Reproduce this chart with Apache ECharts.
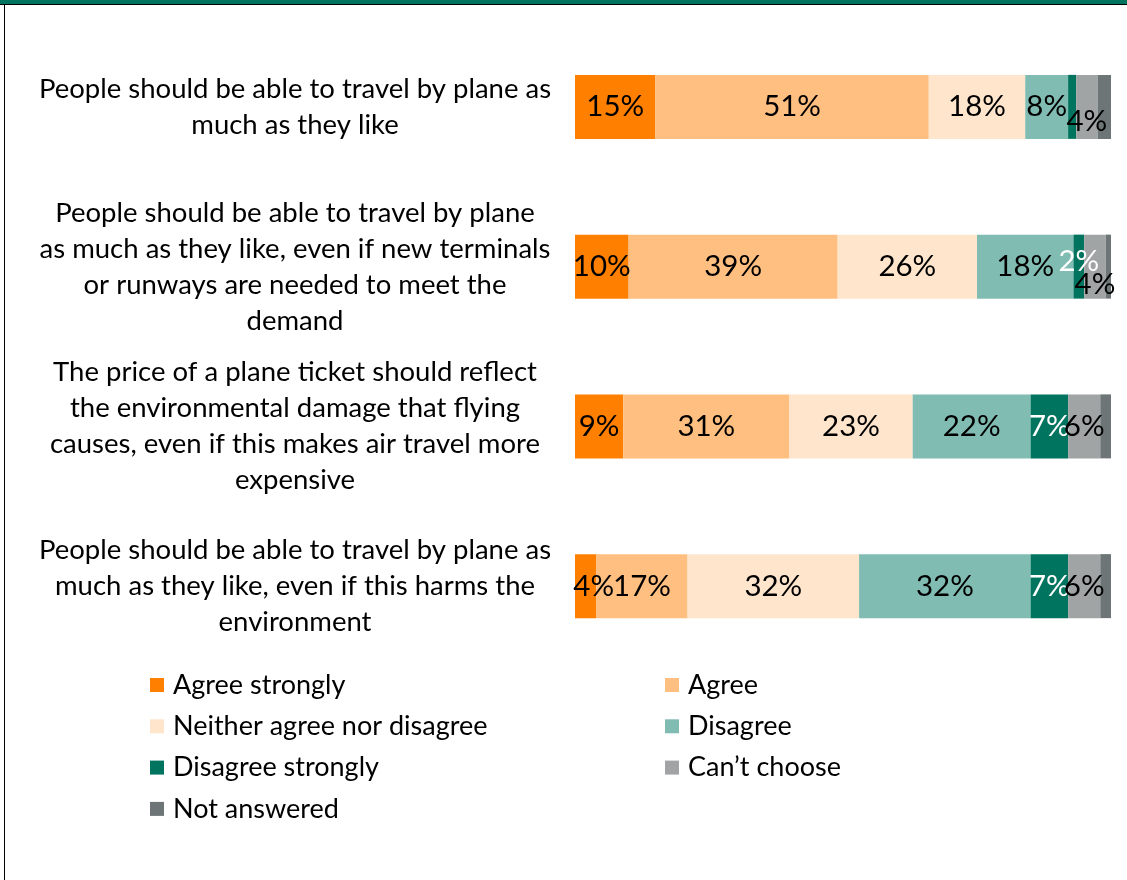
<!DOCTYPE html>
<html>
<head>
<meta charset="utf-8">
<title>Attitudes to air travel</title>
<script src="https://cdn.jsdelivr.net/npm/echarts@6/dist/echarts.min.js"></script>
<style>
  html, body { margin: 0; padding: 0; background: #ffffff; }
  #chart { width: 1127px; height: 880px; }
</style>
</head>
<body>
<div id="chart"></div>
<script>
// Statements (one bar each, top to bottom)
const categories = [
  'People should be able to travel by plane as\nmuch as they like',
  'People should be able to travel by plane\nas much as they like, even if new terminals\nor runways are needed to meet the\ndemand',
  'The price of a plane ticket should reflect\nthe environmental damage that flying\ncauses, even if this makes air travel more\nexpensive',
  'People should be able to travel by plane as\nmuch as they like, even if this harms the\nenvironment'
];

// Response shares, percent of respondents
const agreeStrongly    = [15, 10, 9, 4];
const agree            = [51, 39, 31, 17];
const neither          = [18, 26, 23, 32];
const disagree         = [8, 18, 22, 32];
const disagreeStrongly = [1.5, 2, 7, 7];
const cantChoose       = [4, 4, 6, 6];
const notAnswered      = [2.5, 1, 2, 2];

const seriesNames = [
  'Agree strongly', 'Agree', 'Neither agree nor disagree', 'Disagree',
  'Disagree strongly', 'Can\u2019t choose', 'Not answered'
];
const seriesValues = [agreeStrongly, agree, neither, disagree, disagreeStrongly, cantChoose, notAnswered];
const colors = ['#FF8000', '#FFBF80', '#FFE5CC', '#80BCB2', '#00745F', '#A0A4A4', '#6D7576'];
const labelColors = ['#000', '#000', '#000', '#000', '#fff', '#000', '#000'];

// Labels that are not drawn (series index -> bar indices)
const hiddenLabels = { 4: [0], 6: [0, 1, 2, 3] };
// Nudges for crowded labels near the ends of the bars
const labelNudges = {
  '5-0': [0, 15],
  '5-1': [0, 18],
  '4-1': [0, -5],
  '0-3': [8, 0]
};

const FONT = 'Lato, "Open Sans", sans-serif';

const series = seriesValues.map((vals, s) => ({
  name: seriesNames[s],
  type: 'bar',
  stack: 'total',
  barWidth: 64,
  itemStyle: { color: colors[s] },
  label: {
    show: true,
    position: 'inside',
    color: labelColors[s],
    fontFamily: FONT,
    fontSize: 29.5,
    formatter: p => p.value + '%'
  },
  data: vals.map((v, i) => {
    const item = { value: v };
    const hide = (hiddenLabels[s] || []).indexOf(i) !== -1;
    const nudge = labelNudges[s + '-' + i];
    if (hide) item.label = { show: false };
    else if (nudge) item.label = { offset: nudge };
    return item;
  })
}));

const legendText = { fontFamily: FONT, fontSize: 27, color: '#000', lineHeight: 28, padding: [0, 0, 0, 4] };

const chart = echarts.init(document.getElementById('chart'), null, { renderer: 'canvas' });
chart.setOption({
  animation: false,
  color: colors,
  grid: { left: 575, right: 16, top: 27, bottom: 214, containLabel: false },
  xAxis: { type: 'value', min: 0, max: 100, show: false },
  yAxis: {
    type: 'category',
    inverse: true,
    data: categories,
    axisLine: { show: false },
    axisTick: { show: false },
    splitLine: { show: false },
    axisLabel: {
      align: 'center',
      margin: 280,
      fontFamily: FONT,
      fontSize: 27.5,
      lineHeight: 36,
      color: '#000'
    }
  },
  legend: [
    {
      orient: 'vertical', left: 145, top: 666, itemGap: 13.3,
      itemWidth: 14, itemHeight: 14, icon: 'rect',
      textStyle: legendText, selectedMode: false,
      data: [seriesNames[0], seriesNames[2], seriesNames[4], seriesNames[6]]
    },
    {
      orient: 'vertical', left: 660, top: 666, itemGap: 13.3,
      itemWidth: 14, itemHeight: 14, icon: 'rect',
      textStyle: legendText, selectedMode: false,
      data: [seriesNames[1], seriesNames[3], seriesNames[5]]
    }
  ],
  graphic: [
    { type: 'rect', left: 0, top: 0, shape: { width: 1127, height: 4 }, style: { fill: '#00745F' }, silent: true },
    { type: 'rect', left: 0, top: 4, shape: { width: 1127, height: 1 }, style: { fill: '#000' }, silent: true },
    { type: 'rect', left: 4, top: 4, shape: { width: 1, height: 876 }, style: { fill: '#000' }, silent: true }
  ],
  series: series
});
</script>
</body>
</html>
